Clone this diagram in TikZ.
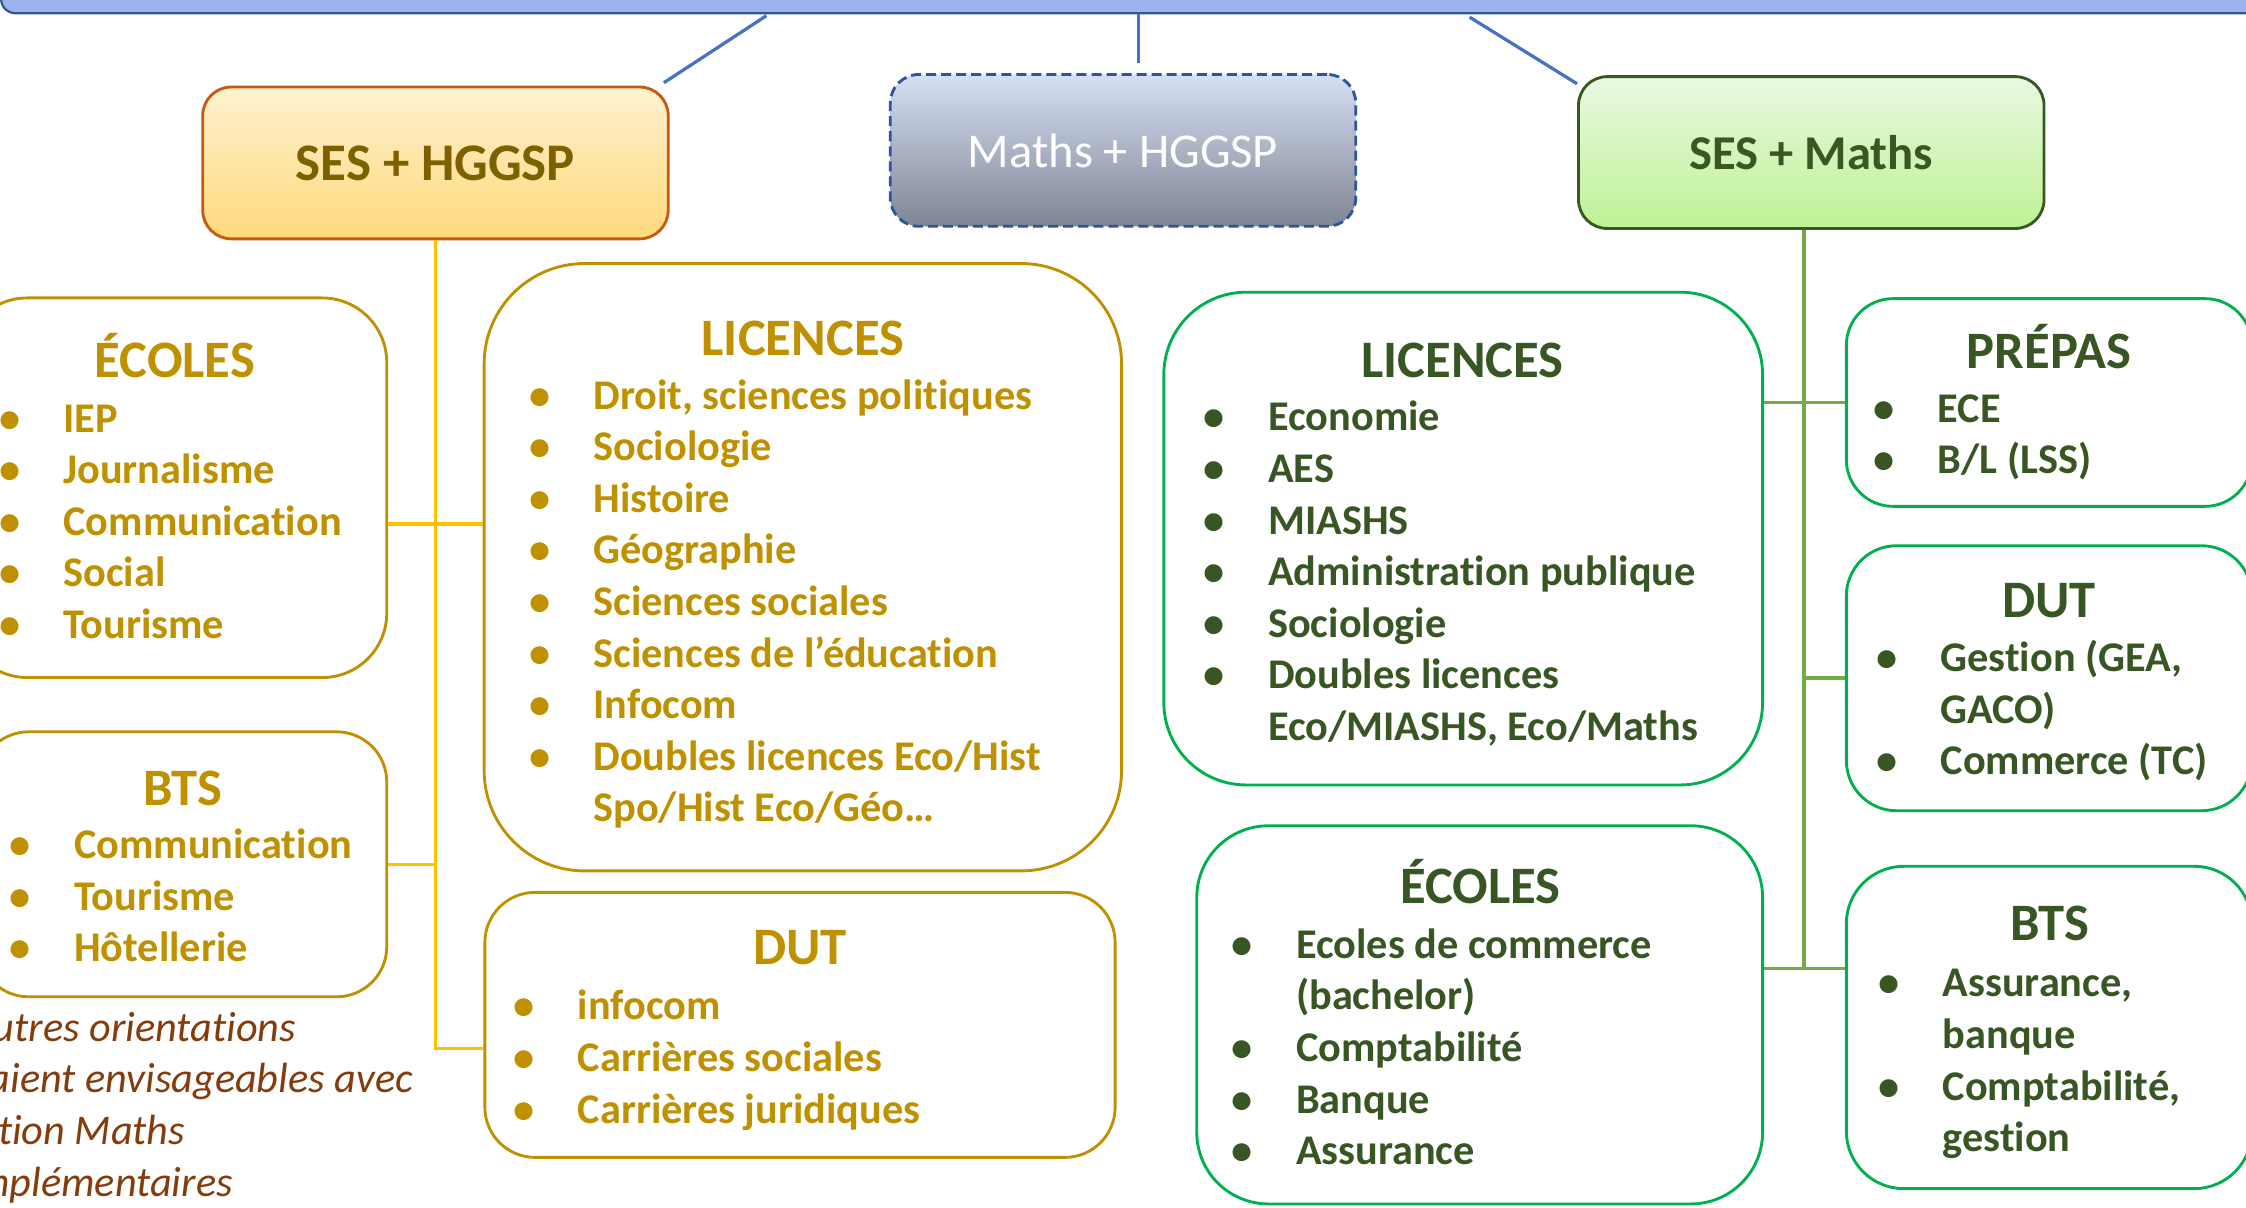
\documentclass[tikz,border=0pt]{standalone}
\usepackage{fontspec}
\setmainfont{Carlito}[Ligatures=NoCommon]
\definecolor{barfill}{HTML}{9CB2EA}
\definecolor{barline}{HTML}{2F5597}
\definecolor{bluelink}{HTML}{4472C4}
\definecolor{ogold}{HTML}{BF9000}
\definecolor{oline}{HTML}{FFC000}
\definecolor{otitle}{HTML}{7F6000}
\definecolor{oedge}{HTML}{C55A11}
\definecolor{otop}{HTML}{FFF2CF}
\definecolor{obot}{HTML}{FFD97C}
\definecolor{mtop}{HTML}{D7E0F3}
\definecolor{mbot}{HTML}{7D8595}
\definecolor{gedge}{HTML}{00B050}
\definecolor{gline}{HTML}{70AD47}
\definecolor{gtext}{HTML}{375623}
\definecolor{gtitle}{HTML}{385723}
\definecolor{gtop}{HTML}{EAF8E1}
\definecolor{gbot}{HTML}{BEF295}
\definecolor{notebrown}{HTML}{843C0C}
\newcommand{\itm}{\makebox[9mm][l]{\textbullet}}

\begin{document}
\begin{tikzpicture}[x=0.2mm,y=-0.2mm,
	topbox/.style={rounded corners=4mm,line width=0.4mm,inner sep=0,minimum width=65mm,minimum height=21.2mm},
	obox/.style={draw=ogold,line width=0.4mm,fill=white,inner sep=0},
	gbox/.style={draw=gedge,line width=0.4mm,fill=white,inner sep=0},
	ohead/.style={text=ogold,anchor=base,inner sep=0,font=\bfseries\fontsize{20.9pt}{25pt}\selectfont},
	ghead/.style={ohead,text=gtext},
	olist/.style={text=ogold,anchor=base west,inner sep=0,font=\bfseries\fontsize{16.8pt}{20.5pt}\selectfont},
	glist/.style={olist,text=gtext},
	olink/.style={draw=oline,line width=0.5mm},
	glink/.style={draw=gline,line width=0.5mm},
	blink/.style={draw=bluelink,line width=0.45mm}]
	\useasboundingbox (0,0) rectangle (1568,843);
	\clip (0,0) rectangle (1568,843);
	% bandeau du haut
	\node[draw=barline,fill=barfill,line width=0.3mm,rounded corners=2mm,minimum width=330mm,minimum height=12mm,anchor=south west] (bar) at (0,10) {};
	% les trois doublettes
	\node[topbox,draw=oedge,top color=otop,bottom color=obot,text=otitle,font=\bfseries\fontsize{21pt}{25pt}\selectfont] (sesH) at (304,113.75) {SES + HGGSP};
	\node[topbox,draw=barline,dash pattern=on 1.4mm off 0.7mm,top color=mtop,bottom color=mbot,text=white,font=\fontsize{19.3pt}{23pt}\selectfont] (mathsH) at (784,105) {Maths + HGGSP};
	\node[topbox,draw=gtitle,top color=gtop,bottom color=gbot,text=gtitle,font=\bfseries\fontsize{19.3pt}{23pt}\selectfont] (sesM) at (1264.5,106.5) {SES + Maths};
	\coordinate (bar1) at (535,11);
	\coordinate (bar2) at (795,10);
	\coordinate (bar3) at (1026,12);
	\coordinate (mtip) at (795,44);
	\draw[blink] (bar1) -- ([shift={(-4,-2)}]sesH.north east);
	\draw[blink] (bar2) -- (mtip);
	\draw[blink] (bar3) -- ([shift={(0,6)}]sesM.north west);
	% SES + HGGSP
	\node[obox,rounded corners=9mm,minimum width=59.2mm,minimum height=53mm] (ecolesH) at (122,340.5) {};
	\node[obox,rounded corners=14mm,minimum width=89mm,minimum height=84.8mm] (licH) at (560.5,396) {};
	\node[obox,rounded corners=7mm,minimum width=57mm,minimum height=37mm] (btsH) at (127.5,603.4) {};
	\node[obox,rounded corners=7mm,minimum width=88mm,minimum height=37mm] (dutH) at (558.5,715.5) {};
	\node[ohead] (ecolesHt) at (122,263.4) {ÉCOLES};
	\node[olist] (ecolesHl) at (-1,301.6) {\begin{tabular}[t]{@{}l@{}l@{}}
		\itm & IEP\\ \itm & Journalisme\\ \itm & Communication\\ \itm & Social\\ \itm & Tourisme
		\end{tabular}};
	\node[ohead] (licHt) at (560.5,248) {LICENCES};
	\node[olist] (licHl) at (369,285.6) {\begin{tabular}[t]{@{}l@{}l@{}}
		\itm & Droit, sciences politiques\\ \itm & Sociologie\\ \itm & Histoire\\ \itm & Géographie\\
		\itm & Sciences sociales\\ \itm & Sciences de l’éducation\\ \itm & Infocom\\
		\itm & Doubles licences Eco/Hist\\ & Spo/Hist Eco/Géo…
		\end{tabular}};
	\node[ohead] (btsHt) at (127.5,562) {BTS};
	\node[olist] (btsHl) at (6.5,599.4) {\begin{tabular}[t]{@{}l@{}l@{}}
		\itm & Communication\\ \itm & Tourisme\\ \itm & Hôtellerie
		\end{tabular}};
	\node[ohead] (dutHt) at (558.5,673.5) {DUT};
	\node[olist] (dutHl) at (358,712) {\begin{tabular}[t]{@{}l@{}l@{}}
		\itm & infocom\\ \itm & Carrières sociales\\ \itm & Carrières juridiques
		\end{tabular}};
	\node[olist,text=notebrown,font=\itshape\fontsize{16.8pt}{20.5pt}\selectfont] (note) at (-44,727) {\begin{tabular}[t]{@{}l@{}}
		D’autres orientations\\ seraient envisageables avec\\ l’option Maths\\ complémentaires
		\end{tabular}};
	\coordinate (ojoin1) at (304,366);
	\coordinate (ojoin2) at (304,731.9);
	\draw[olink] (sesH.south) -- (ojoin2) -- (ojoin2 -| dutH.west);
	\draw[olink] (ojoin1 -| ecolesH.east) -- (ojoin1 -| licH.west);
	\draw[olink] (btsH.east) -- (btsH.east -| sesH.south);
	% SES + Maths
	\node[gbox,rounded corners=11.5mm,minimum width=83.6mm,minimum height=68.8mm] (licM) at (1021.5,376) {};
	\node[gbox,rounded corners=6.5mm,minimum width=56.6mm,minimum height=29mm] (prepas) at (1430.5,281) {};
	\node[gbox,rounded corners=7mm,minimum width=56.6mm,minimum height=37mm] (dutM) at (1430.5,473.5) {};
	\node[gbox,rounded corners=10mm,minimum width=79mm,minimum height=52.8mm] (ecoM) at (1033,708.5) {};
	\node[gbox,rounded corners=8mm,minimum width=56.6mm,minimum height=45mm] (btsM) at (1430.5,717.3) {};
	\node[ghead] (licMt) at (1021,263.4) {LICENCES};
	\node[glist] (licMl) at (840,300.8) {\begin{tabular}[t]{@{}l@{}l@{}}
		\itm & Economie\\ \itm & AES\\ \itm & MIASHS\\ \itm & Administration publique\\ \itm & Sociologie\\
		\itm & Doubles licences\\ & Eco/MIASHS, Eco/Maths
		\end{tabular}};
	\node[ghead] (prepast) at (1430.5,257) {PRÉPAS};
	\node[glist] (prepasl) at (1307.5,294.7) {\begin{tabular}[t]{@{}l@{}l@{}}
		\itm & ECE\\ \itm & B/L (LSS)
		\end{tabular}};
	\node[ghead] (dutMt) at (1430.5,431) {DUT};
	\node[glist] (dutMl) at (1309.5,469) {\begin{tabular}[t]{@{}l@{}l@{}}
		\itm & Gestion (GEA,\\ & GACO)\\ \itm & Commerce (TC)
		\end{tabular}};
	\node[ghead] (ecoMt) at (1033.5,631) {ÉCOLES};
	\node[glist] (ecoMl) at (859.5,669) {\begin{tabular}[t]{@{}l@{}l@{}}
		\itm & Ecoles de commerce\\ & (bachelor)\\ \itm & Comptabilité\\ \itm & Banque\\ \itm & Assurance
		\end{tabular}};
	\node[ghead] (btsMt) at (1431,656.7) {BTS};
	\node[glist] (btsMl) at (1311,696) {\begin{tabular}[t]{@{}l@{}l@{}}
		\itm & Assurance,\\ & banque\\ \itm & Comptabilité,\\ & gestion
		\end{tabular}};
	\coordinate (gjoin) at (1259.5,676.2);
	\draw[glink] (sesM.south -| gjoin) -- (gjoin);
	\draw[glink] (prepas.west -| licM.east) -- (prepas.west);
	\draw[glink] (dutM.west -| gjoin) -- (dutM.west);
	\draw[glink] (gjoin -| ecoM.east) -- (gjoin -| btsM.west);
\end{tikzpicture}
\end{document}
